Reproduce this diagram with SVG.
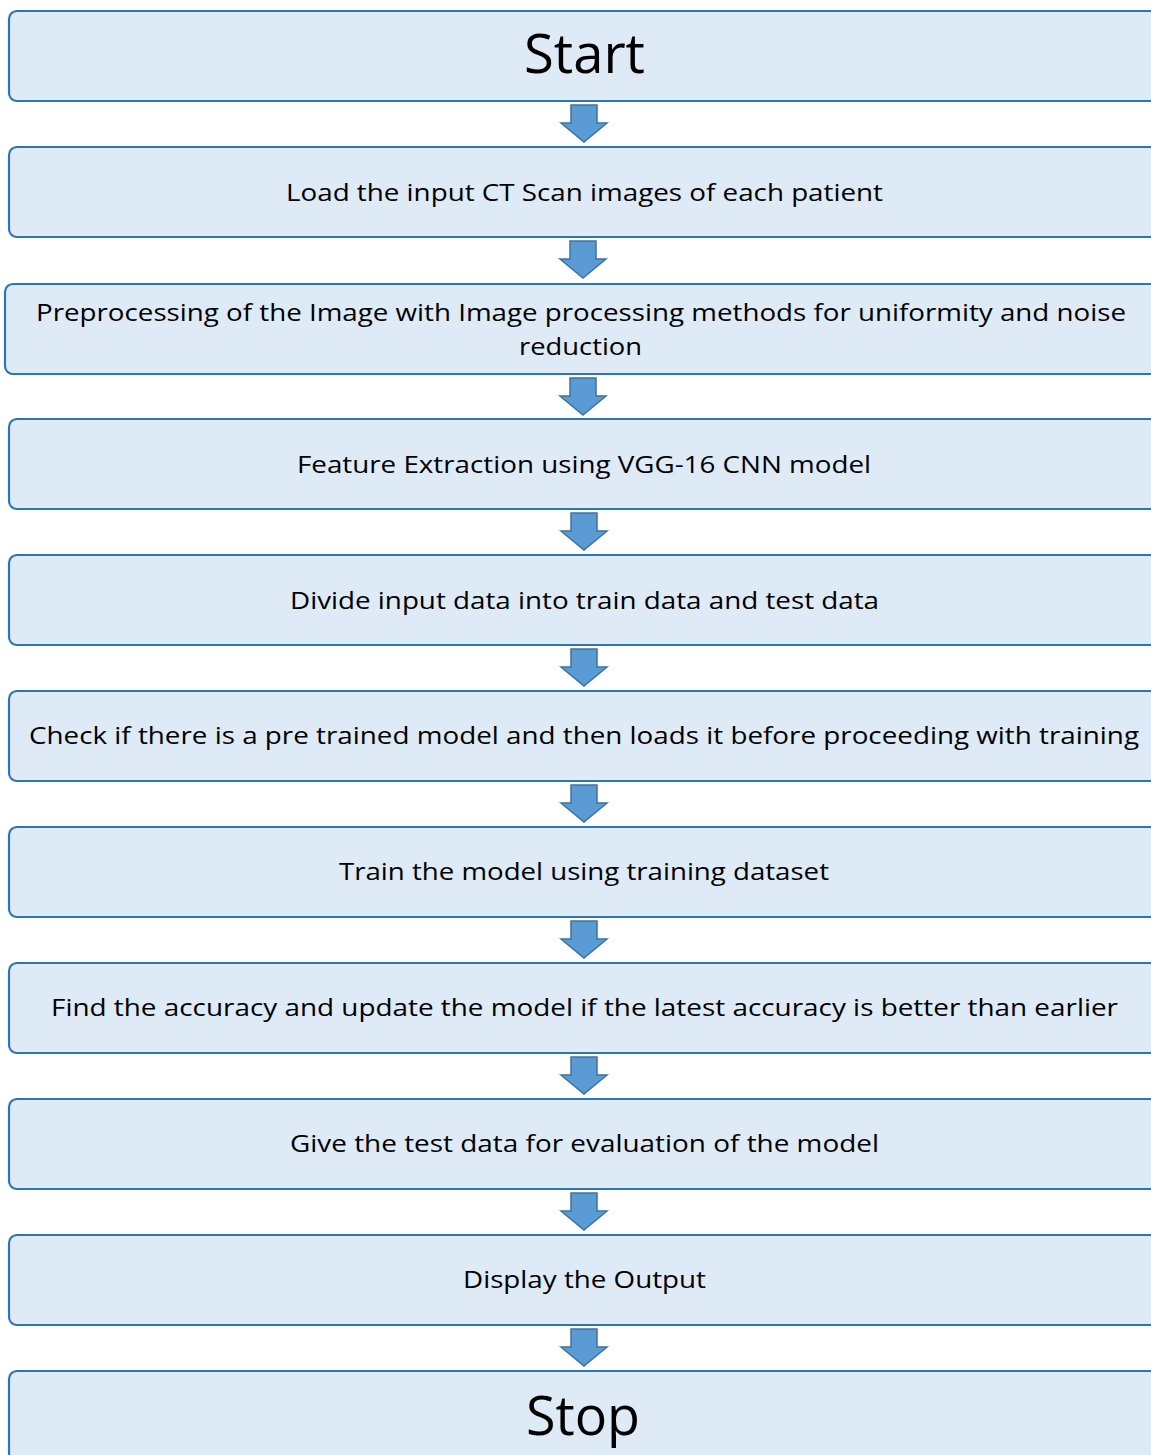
<svg xmlns="http://www.w3.org/2000/svg" width="1151" height="1455" viewBox="0 0 1151 1455">
<defs>
<style>
.box{fill:#DEEAF6;stroke:#2E75B6;stroke-width:2.2}
.t{font-family:"Open Sans","Liberation Sans",sans-serif;font-size:24px;fill:#000;text-anchor:middle}
.big{font-family:"Open Sans","Liberation Sans",sans-serif;font-size:54px;fill:#000;text-anchor:middle}
.arr{fill:#5B9BD5;stroke:#41719C;stroke-width:1.5;stroke-linejoin:miter}
</style>
<path id="dn" d="M-13,0 H13 V18 H23 L0,37 L-23,18 H-13 Z"/>
</defs>
<rect width="1151" height="1455" fill="#fff"/>
<g id="connectors">
<use href="#dn" class="arr" x="584" y="105"/>
<use href="#dn" class="arr" x="583" y="241"/>
<use href="#dn" class="arr" x="583" y="378"/>
<use href="#dn" class="arr" x="584" y="513"/>
<use href="#dn" class="arr" x="584" y="649"/>
<use href="#dn" class="arr" x="584" y="785"/>
<use href="#dn" class="arr" x="584" y="921"/>
<use href="#dn" class="arr" x="584" y="1057"/>
<use href="#dn" class="arr" x="584" y="1193"/>
<use href="#dn" class="arr" x="584" y="1329"/>
</g>
<g id="n1"><rect class="box" x="9" y="11" width="1160" height="90" rx="8"/><text class="big" x="584.5" y="73" textLength="121" lengthAdjust="spacingAndGlyphs">Start</text></g>
<g id="n2"><rect class="box" x="9" y="147" width="1160" height="90" rx="8"/><text class="t" x="584.5" y="201" textLength="597" lengthAdjust="spacingAndGlyphs">Load the input CT Scan images of each patient</text></g>
<g id="n3"><rect class="box" x="5" y="284" width="1160" height="90" rx="8"/><text class="t" x="581" y="321" textLength="1090" lengthAdjust="spacingAndGlyphs">Preprocessing of the Image with Image processing methods for uniformity and noise</text><text class="t" x="580.5" y="355" textLength="123" lengthAdjust="spacingAndGlyphs">reduction</text></g>
<g id="n4"><rect class="box" x="9" y="419" width="1160" height="90" rx="8"/><text class="t" x="584" y="473" textLength="574" lengthAdjust="spacingAndGlyphs">Feature Extraction using VGG-16 CNN model</text></g>
<g id="n5"><rect class="box" x="9" y="555" width="1160" height="90" rx="8"/><text class="t" x="584.5" y="609" textLength="589" lengthAdjust="spacingAndGlyphs">Divide input data into train data and test data</text></g>
<g id="n6"><rect class="box" x="9" y="691" width="1160" height="90" rx="8"/><text class="t" x="584" y="744" textLength="1110" lengthAdjust="spacingAndGlyphs">Check if there is a pre trained model and then loads it before proceeding with training</text></g>
<g id="n7"><rect class="box" x="9" y="827" width="1160" height="90" rx="8"/><text class="t" x="584" y="880" textLength="490" lengthAdjust="spacingAndGlyphs">Train the model using training dataset</text></g>
<g id="n8"><rect class="box" x="9" y="963" width="1160" height="90" rx="8"/><text class="t" x="584.5" y="1016" textLength="1067" lengthAdjust="spacingAndGlyphs">Find the accuracy and update the model if the latest accuracy is better than earlier</text></g>
<g id="n9"><rect class="box" x="9" y="1099" width="1160" height="90" rx="8"/><text class="t" x="584.5" y="1152" textLength="589" lengthAdjust="spacingAndGlyphs">Give the test data for evaluation of the model</text></g>
<g id="n10"><rect class="box" x="9" y="1235" width="1160" height="90" rx="8"/><text class="t" x="584.5" y="1288" textLength="243" lengthAdjust="spacingAndGlyphs">Display the Output</text></g>
<g id="n11"><rect class="box" x="9" y="1371" width="1160" height="90" rx="8"/><text class="big" x="583" y="1435" textLength="114" lengthAdjust="spacingAndGlyphs">Stop</text></g>
</svg>
